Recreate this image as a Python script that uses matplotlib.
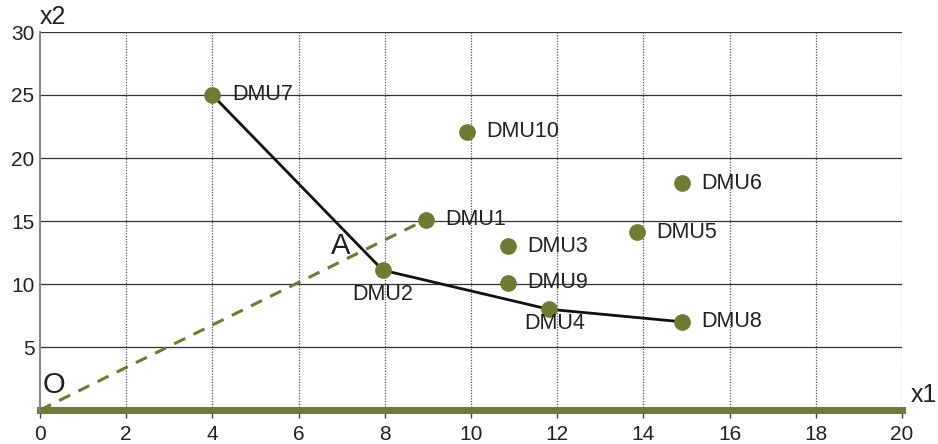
import matplotlib
matplotlib.use("Agg")
import matplotlib.pyplot as plt

plt.rcParams['font.family'] = ['Liberation Sans', 'DejaVu Sans']

labels = ["DMU1", "DMU2", "DMU3", "DMU4", "DMU5", "DMU6", "DMU7", "DMU8", "DMU9", "DMU10"]
x1 = [8.95, 7.95, 10.85, 11.8, 13.85, 14.9, 4.0, 14.9, 10.85, 9.9]
x2 = [15.1, 11.1, 13.0, 8.0, 14.1, 18.0, 25.0, 7.0, 10.1, 22.1]
frontier = ["DMU7", "DMU2", "DMU4", "DMU8"]
xticks = [0, 2, 4, 6, 8, 10, 12, 14, 16, 18, 20]
yticks = [5, 10, 15, 20, 25, 30]

olive = "#707a32"
fig = plt.figure(figsize=(9.38, 4.44), dpi=100)
ax = fig.add_axes([40/938, 34/444, 862/938, 378/444])
ax.set_xlim(0, 20)
ax.set_ylim(0, 30)

for y in yticks:
    ax.axhline(y, color="#333333", lw=0.9, zorder=1)
for x in xticks[1:]:
    ax.axvline(x, color="#555555", lw=0.9, ls=(0, (1, 1.2)), zorder=1)

for s in ["top", "right", "bottom"]:
    ax.spines[s].set_visible(False)
ax.spines["left"].set_color("#888888")
ax.spines["left"].set_linewidth(1.5)
ax.axhline(0, color=olive, lw=5, zorder=2, clip_on=False)

ax.set_xticks(xticks)
ax.set_yticks(yticks)
ax.tick_params(axis="x", length=6, width=1, color="#444444", labelsize=15, pad=5)
ax.tick_params(axis="y", length=0, labelsize=15, pad=4)
for t in ax.get_xticklabels() + ax.get_yticklabels():
    t.set_color("#222222")

idx = {l: i for i, l in enumerate(labels)}
fx = [x1[idx[l]] for l in frontier]
fy = [x2[idx[l]] for l in frontier]
ax.plot(fx, fy, color="#111111", lw=2, zorder=3)

d1 = idx["DMU1"]
ax.plot([0, x1[d1]], [0, x2[d1]], color=olive, lw=2.2, ls=(0, (4, 3)), zorder=3)

ax.plot(x1, x2, "o", color=olive, ms=11, zorder=4, clip_on=False)

offsets = {
    "DMU2": (0.0, -1.95, "center", "center"),
    "DMU4": (0.15, -1.15, "center", "center"),
}
for l, xv, yv in zip(labels, x1, x2):
    if l in offsets:
        dx, dy, ha, va = offsets[l]
    else:
        dx, dy, ha, va = 0.45, 0.0, "left", "center"
    ax.text(xv + dx, yv + dy, l, fontsize=15.5, color="#222222", ha=ha, va=va, zorder=5)

ax.text(6.75, 13.0, "A", fontsize=21, color="#222222", va="center", ha="left")
ax.text(0.07, 2.0, "O", fontsize=21, color="#222222", va="center", ha="left")
ax.text(0.0, 30.2, "x2", fontsize=18, color="#222222", va="bottom", ha="left",
        transform=ax.transData)
ax.text(20.2, 1.2, "x1", fontsize=18, color="#222222", va="center", ha="left", clip_on=False)

fig.savefig("out.png", dpi=100)
